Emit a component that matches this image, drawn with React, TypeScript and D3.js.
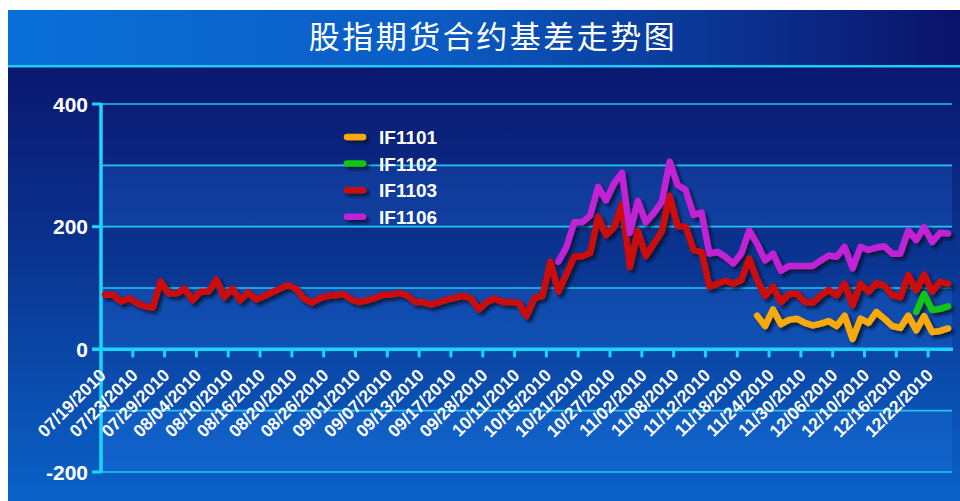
import * as d3 from 'd3'

// trading days shown on the category axis
const dates = [
  '07/19/2010', '07/20/2010', '07/21/2010', '07/22/2010', '07/23/2010', '07/26/2010', '07/27/2010', '07/28/2010',
  '07/29/2010', '07/30/2010', '08/02/2010', '08/03/2010', '08/04/2010', '08/05/2010', '08/06/2010', '08/09/2010',
  '08/10/2010', '08/11/2010', '08/12/2010', '08/13/2010', '08/16/2010', '08/17/2010', '08/18/2010', '08/19/2010',
  '08/20/2010', '08/23/2010', '08/24/2010', '08/25/2010', '08/26/2010', '08/27/2010', '08/30/2010', '08/31/2010',
  '09/01/2010', '09/02/2010', '09/03/2010', '09/06/2010', '09/07/2010', '09/08/2010', '09/09/2010', '09/10/2010',
  '09/13/2010', '09/14/2010', '09/15/2010', '09/16/2010', '09/17/2010', '09/20/2010', '09/21/2010', '09/27/2010',
  '09/28/2010', '09/29/2010', '09/30/2010', '10/08/2010', '10/11/2010', '10/12/2010', '10/13/2010', '10/14/2010',
  '10/15/2010', '10/18/2010', '10/19/2010', '10/20/2010', '10/21/2010', '10/22/2010', '10/25/2010', '10/26/2010',
  '10/27/2010', '10/28/2010', '10/29/2010', '11/01/2010', '11/02/2010', '11/03/2010', '11/04/2010', '11/05/2010',
  '11/08/2010', '11/09/2010', '11/10/2010', '11/11/2010', '11/12/2010', '11/15/2010', '11/16/2010', '11/17/2010',
  '11/18/2010', '11/19/2010', '11/22/2010', '11/23/2010', '11/24/2010', '11/25/2010', '11/26/2010', '11/29/2010',
  '11/30/2010', '12/01/2010', '12/02/2010', '12/03/2010', '12/06/2010', '12/07/2010', '12/08/2010', '12/09/2010',
  '12/10/2010', '12/13/2010', '12/14/2010', '12/15/2010', '12/16/2010', '12/17/2010', '12/20/2010', '12/21/2010',
  '12/22/2010', '12/23/2010', '12/24/2010',
]

// basis values, each series starts at its listing day
const if1101Start = '11/22/2010'
const if1101 = [55, 38, 65, 41, 48, 50, 43, 39, 42, 46, 38, 55, 17, 50, 43, 61, 50, 38, 35, 55, 31, 54, 28, 30, 34]

const if1102Start = '12/20/2010'
const if1102 = [61, 90, 64, 66, 70]

const if1103Start = '07/19/2010'
const if1103 = [
  89, 89, 78, 83, 76, 70, 68, 111, 91, 91, 99, 80, 94, 94, 114, 85, 99, 80, 93, 81,
  87, 93, 99, 105, 99, 83, 76, 83, 87, 88, 90, 81, 77, 80, 84, 89, 89, 92, 88, 77,
  77, 73, 77, 81, 84, 87, 83, 65, 77, 83, 77, 77, 76, 54, 84, 87, 143, 94, 122, 151,
  152, 157, 216, 186, 199, 237, 134, 193, 152, 172, 192, 250, 201, 200, 162, 159, 102, 107, 112, 107,
  113, 148, 113, 87, 102, 77, 90, 91, 77, 76, 88, 97, 88, 107, 72, 107, 94, 108, 104, 88,
  85, 121, 96, 122, 94, 110, 107,
]

const if1106Start = '10/18/2010'
const if1106 = [
  143, 166, 207, 207, 218, 265, 243, 270, 288, 190, 242, 207, 222, 240, 306, 268, 260, 219, 223, 156,
  159, 151, 140, 156, 194, 172, 145, 156, 128, 136, 136, 136, 136, 145, 153, 151, 167, 132, 167, 162,
  166, 168, 156, 156, 194, 178, 199, 175, 190, 189,
]

const yTicks = [-200, 0, 200, 400]
const gridValues = [-200, -100, 0, 100, 200, 300, 400]

const series = [
  { name: 'IF1101', color: '#f8aa08', start: if1101Start, values: if1101 },
  { name: 'IF1102', color: '#12c412', start: if1102Start, values: if1102 },
  { name: 'IF1103', color: '#cc0808', start: if1103Start, values: if1103 },
  { name: 'IF1106', color: '#c020d4', start: if1106Start, values: if1106 },
]

const W = 960
const H = 501
const left = 101
const right = 952
const top = 104
const bottom = 472
const font = "'Liberation Sans', Arial, sans-serif"

export default function App() {
  const x = d3.scaleBand<string>().domain(dates).range([left, right]).padding(0)
  const y = d3.scaleLinear().domain([-200, 400]).range([bottom, top])
  const half = x.bandwidth() / 2

  const line = d3
    .line<{ d: string; v: number }>()
    .x((p) => (x(p.d) as number) + half)
    .y((p) => y(p.v))

  const tickDates = dates.filter((_, i) => i % 4 === 0)

  return (
    <svg width={W} height={H} style={{ position: 'absolute', left: 0, top: 0 }}>
      <defs>
        <linearGradient id="titleBg" x1="0" y1="0" x2="1" y2="0">
          <stop offset="0" stopColor="#0a70d8" />
          <stop offset="0.45" stopColor="#0a5cc4" />
          <stop offset="1" stopColor="#0b1268" />
        </linearGradient>
        <linearGradient id="bodyBg" x1="0" y1="0" x2="0" y2="1">
          <stop offset="0" stopColor="#0a0f66" />
          <stop offset="0.5" stopColor="#0a3490" />
          <stop offset="1" stopColor="#0a62c8" />
        </linearGradient>
        <filter id="shadow" filterUnits="userSpaceOnUse" x={0} y={0} width={W} height={H}>
          <feDropShadow dx="3" dy="3" stdDeviation="1.6" floodColor="#000826" floodOpacity="0.75" />
        </filter>
      </defs>

      <rect x={0} y={0} width={W} height={H} fill="#ffffff" />
      <rect x={8} y={10} width={W - 8} height={H - 10} fill="url(#bodyBg)" />
      <rect x={8} y={10} width={W - 8} height={55} fill="url(#titleBg)" />
      <rect x={8} y={65} width={W - 8} height={2.5} fill="#1ecdf4" />

      <text
        x={493}
        y={48}
        textAnchor="middle"
        fill="#ffffff"
        fontSize={31}
        letterSpacing={2.5}
        fontFamily="'Noto Sans CJK SC', sans-serif"
      >
        股指期货合约基差走势图
      </text>

      {/* lighter bands */}
      {[[200, 300], [0, 100], [-200, -100]].map(([a, b]) => (
        <rect
          key={a}
          x={left}
          y={y(b)}
          width={right - left}
          height={y(a) - y(b)}
          fill="#2a8cff"
          fillOpacity={0.18}
        />
      ))}

      {gridValues.map((v) => (
        <line key={v} x1={left} x2={right} y1={y(v)} y2={y(v)} stroke="#22c6f2" strokeWidth={1.6} />
      ))}

      {/* y axis */}
      <line x1={left} x2={left} y1={top - 1} y2={bottom + 1} stroke="#1ad6ff" strokeWidth={3.5} />
      {yTicks.map((v) => (
        <g key={v}>
          <line x1={left - 9} x2={left} y1={y(v)} y2={y(v)} stroke="#1ad6ff" strokeWidth={3} />
          <text
            x={88}
            y={y(v) + 7.5}
            textAnchor="end"
            fill="#ffffff"
            fontSize={21}
            fontWeight="bold"
            fontFamily={font}
          >
            {v}
          </text>
        </g>
      ))}

      {/* x axis at zero */}
      <line x1={left - 9} x2={right + 1} y1={y(0)} y2={y(0)} stroke="#1ad6ff" strokeWidth={3.5} />
      {tickDates.map((d) => (
        <g key={d}>
          {d !== dates[0] && (
            <line x1={x(d)} x2={x(d)} y1={y(0)} y2={y(0) + 8} stroke="#1ad6ff" strokeWidth={3} />
          )}
          <text
            transform={`translate(${(x(d) as number) + half + 2},${y(0) + 27}) rotate(-45)`}
            textAnchor="end"
            fill="#ffffff"
            fontSize={17.5}
            fontWeight="bold"
            fontFamily={font}
          >
            {d}
          </text>
        </g>
      ))}

      {/* series */}
      <g filter="url(#shadow)">
        {series.map((s) => {
          const i0 = dates.indexOf(s.start)
          const pts = s.values.map((v, i) => ({ d: dates[i0 + i], v }))
          return (
            <path
              key={s.name}
              d={line(pts) ?? ''}
              fill="none"
              stroke={s.color}
              strokeWidth={6.5}
              strokeLinejoin="round"
              strokeLinecap="round"
            />
          )
        })}
      </g>

      {/* legend */}
      <g filter="url(#shadow)">
        {series.map((s, i) => (
          <line
            key={s.name}
            x1={347}
            x2={363}
            y1={137 + i * 26.6}
            y2={137 + i * 26.6}
            stroke={s.color}
            strokeWidth={6.5}
            strokeLinecap="round"
          />
        ))}
      </g>
      {series.map((s, i) => (
        <text
          key={s.name}
          x={379}
          y={144 + i * 26.6}
          fill="#ffffff"
          fontSize={19}
          fontWeight="bold"
          fontFamily={font}
        >
          {s.name}
        </text>
      ))}
    </svg>
  )
}
